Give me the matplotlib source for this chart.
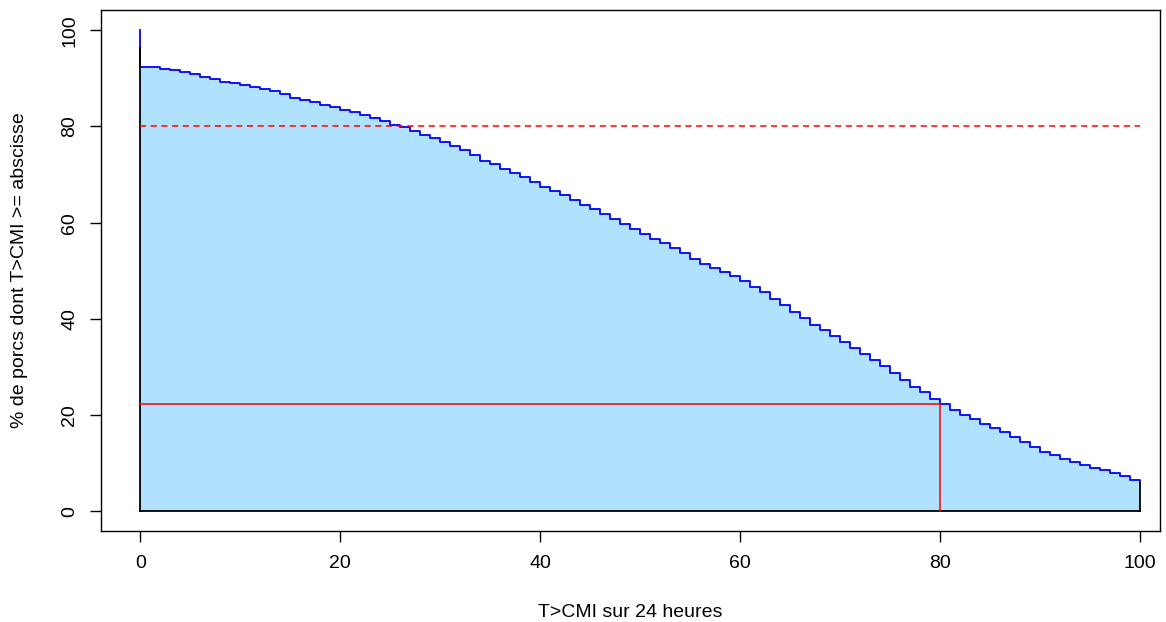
import matplotlib
matplotlib.use("AGG")
import matplotlib.pyplot as plt

# T>CMI (% of 24 h), one step per unit
t_cmi = list(range(0, 101))
# % of pigs with T>CMI >= abscissa
pct_pigs = [
    92.3, 92.3, 91.9, 91.7, 91.3, 90.8, 90.3, 89.8, 89.3, 89.0,
    88.6, 88.2, 87.8, 87.3, 86.7, 86.0, 85.5, 85.0, 84.5, 84.1,
    83.5, 82.9, 82.4, 81.8, 81.1, 80.4, 79.8, 79.1, 78.3, 77.5,
    76.7, 75.9, 75.0, 74.0, 72.9, 72.1, 71.2, 70.4, 69.5, 68.5,
    67.5, 66.6, 65.7, 64.7, 63.7, 62.8, 61.7, 60.7, 59.7, 58.6,
    57.7, 56.7, 55.8, 54.7, 53.6, 52.4, 51.4, 50.5, 49.7, 48.9,
    47.8, 46.7, 45.5, 44.2, 42.8, 41.5, 40.1, 38.8, 37.6, 36.4,
    35.2, 33.9, 32.7, 31.4, 30.1, 28.7, 27.2, 25.9, 24.7, 23.4,
    22.3, 21.1, 20.1, 19.1, 18.2, 17.3, 16.4, 15.4, 14.4, 13.4,
    12.4, 11.6, 10.9, 10.3, 9.7, 9.1, 8.5, 7.9, 7.3, 6.5,
    5.9,
]
start_pct = 100.0      # value at x = 0
black_edge_top = 96.2  # left border of the filled polygon
target_pct = 80        # dashed reference line
target_x = 80          # T>CMI threshold
target_y = 22.3        # % of pigs reaching the threshold

plt.rcParams["font.family"] = ["Liberation Sans", "DejaVu Sans"]

fig = plt.figure(figsize=(11.66, 6.22), dpi=100)
ax = fig.add_axes([0.0866, 0.1463, 0.9083, 0.8376])

# filled area under the step curve
ax.fill_between(t_cmi, 0, pct_pigs, step="post", color="#B0E2FF", linewidth=0)

# step curve (blue)
xs = [0] + t_cmi
ys = [start_pct] + pct_pigs
ax.step(xs, ys, where="post", color="blue", lw=1.3, zorder=3)

# polygon border (black), drawn over the curve
ax.plot([0, 0], [0, black_edge_top], color="black", lw=1.3, zorder=4)
ax.plot([0, t_cmi[-1]], [0, 0], color="black", lw=1.3, zorder=4)
ax.plot([t_cmi[-1], t_cmi[-1]], [0, pct_pigs[-1]], color="black", lw=1.3, zorder=4)

# reference lines
ax.plot([0, 100], [target_pct, target_pct], color="red", lw=1.1, ls=(0, (4, 3)), zorder=5)
ax.plot([0, target_x], [target_y, target_y], color="red", lw=1.1, zorder=5)
ax.plot([target_x, target_x], [0, target_y], color="red", lw=1.1, zorder=5)

ax.set_xlim(-3.93, 102.0)
ax.set_ylim(-4.1, 104.2)
ax.set_xticks([0, 20, 40, 60, 80, 100])
ax.set_yticks([0, 20, 40, 60, 80, 100])
ax.tick_params(direction="out", length=8, width=1, labelsize=14)
ax.tick_params(axis="x", pad=9.5)
ax.tick_params(axis="y", pad=8.5)
for lab in ax.get_yticklabels():
    lab.set_rotation(90)
    lab.set_va("center")
for sp in ax.spines.values():
    sp.set_linewidth(1)

ax.set_xlabel("T>CMI sur 24 heures", fontsize=14, va="center")
ax.set_ylabel("% de porcs dont T>CMI >= abscisse", fontsize=14, va="center")
ax.xaxis.set_label_coords(0.5, -0.1555)
ax.yaxis.set_label_coords(-0.0774, 0.5)

fig.savefig("out.png", dpi=100)
plt.close(fig)
